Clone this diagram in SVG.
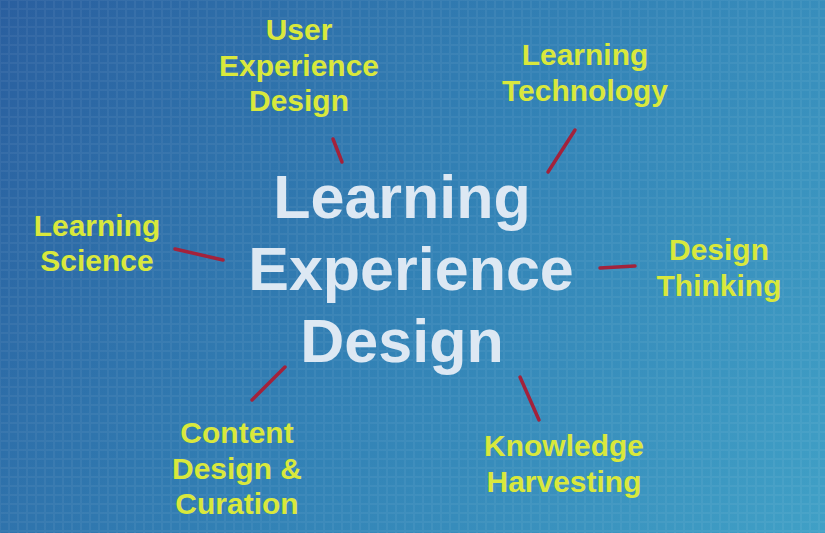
<svg xmlns="http://www.w3.org/2000/svg" width="825" height="533" viewBox="0 0 825 533">
<defs>
<linearGradient id="bg" x1="0" y1="0" x2="825" y2="533" gradientUnits="userSpaceOnUse">
<stop offset="0" stop-color="#2a5f9f"/>
<stop offset="0.5" stop-color="#3281b5"/>
<stop offset="1" stop-color="#40a0c6"/>
</linearGradient>
<pattern id="tex" width="9" height="9" patternUnits="userSpaceOnUse">
<rect x="0.5" y="0.5" width="8" height="8" fill="none" stroke="#ffffff" stroke-opacity="0.05" stroke-width="1"/>
</pattern>
<style>
.t{font-family:"Liberation Sans",Arial,sans-serif;font-weight:700;font-size:30px;fill:#d9e83c;text-anchor:middle}
.c{font-family:"Liberation Sans",Arial,sans-serif;font-weight:700;font-size:61px;fill:#dde8f3;text-anchor:middle}
.l{stroke:#a3223b;stroke-width:3.5;stroke-linecap:round}
</style>
</defs>
<rect width="825" height="533" fill="url(#bg)"/>
<rect width="825" height="533" fill="url(#tex)"/>
<g id="connectors">
<line class="l" x1="333" y1="139" x2="342" y2="162"/>
<line class="l" x1="575" y1="130" x2="548" y2="172"/>
<line class="l" x1="175" y1="249" x2="223" y2="260"/>
<line class="l" x1="600" y1="268" x2="635" y2="266"/>
<line class="l" x1="285" y1="367" x2="252" y2="400"/>
<line class="l" x1="520" y1="377" x2="539" y2="420"/>
</g>
<g id="center">
<text class="c" x="402" y="218">Learning</text>
<text class="c" x="411" y="290">Experience</text>
<text class="c" x="402" y="362">Design</text>
</g>
<g id="ux">
<text class="t" x="299" y="40">User</text>
<text class="t" x="299" y="76">Experience</text>
<text class="t" x="299" y="111">Design</text>
</g>
<g id="lt">
<text class="t" x="585" y="65">Learning</text>
<text class="t" x="585" y="101">Technology</text>
</g>
<g id="ls">
<text class="t" x="97" y="236">Learning</text>
<text class="t" x="97" y="271">Science</text>
</g>
<g id="dt">
<text class="t" x="719" y="260">Design</text>
<text class="t" x="719" y="296">Thinking</text>
</g>
<g id="cdc">
<text class="t" x="237" y="443">Content</text>
<text class="t" x="237" y="479">Design &amp;</text>
<text class="t" x="237" y="514">Curation</text>
</g>
<g id="kh">
<text class="t" x="564" y="456">Knowledge</text>
<text class="t" x="564" y="492">Harvesting</text>
</g>
</svg>
